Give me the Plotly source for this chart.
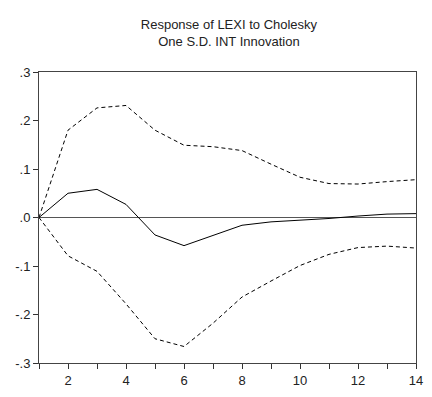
import plotly.graph_objects as go

periods = list(range(1, 15))
response = [0.0, 0.050, 0.058, 0.027, -0.036, -0.058, -0.037, -0.016, -0.009, -0.006, -0.002, 0.003, 0.007, 0.008]
upper = [0.0, 0.180, 0.226, 0.231, 0.180, 0.149, 0.146, 0.138, 0.110, 0.083, 0.070, 0.069, 0.074, 0.078]
lower = [0.0, -0.079, -0.111, -0.178, -0.250, -0.266, -0.218, -0.164, -0.131, -0.099, -0.076, -0.062, -0.059, -0.063]

y_ticks = [0.3, 0.2, 0.1, 0.0, -0.1, -0.2, -0.3]
y_labels = [".3", ".2", ".1", ".0", "-.1", "-.2", "-.3"]
x_labels = [str(p) if p % 2 == 0 else "" for p in periods]

fig = go.Figure()
fig.add_trace(go.Scatter(x=periods, y=upper, mode="lines",
                         line=dict(color="black", width=1, dash="4px,3px")))
fig.add_trace(go.Scatter(x=periods, y=lower, mode="lines",
                         line=dict(color="black", width=1, dash="4px,3px")))
fig.add_trace(go.Scatter(x=periods, y=response, mode="lines",
                         line=dict(color="black", width=1)))

fig.update_layout(
    width=432, height=397,
    margin=dict(l=39, r=9, t=72, b=26),
    paper_bgcolor="white", plot_bgcolor="white",
    showlegend=False,
    font=dict(family="Liberation Sans, Arial, sans-serif", size=12, color="#222"),
    title=dict(text="Response of LEXI to Cholesky<br>One S.D. INT Innovation",
               x=0.53, xanchor="center", y=0.927, yanchor="top",
               font=dict(size=13, color="#222")),
)
fig.update_xaxes(range=[1, 14], tickvals=periods, ticktext=x_labels,
                 ticks="outside", ticklen=5, tickcolor="#333", showgrid=False,
                 zeroline=False, showline=True, linecolor="#444", linewidth=1,
                 mirror=True, tickfont=dict(size=13))
fig.update_yaxes(range=[-0.3, 0.3], tickvals=y_ticks, ticktext=y_labels,
                 ticks="outside", ticklen=5, tickcolor="#333", showgrid=False,
                 zeroline=True, zerolinecolor="#555", zerolinewidth=1,
                 showline=True, linecolor="#444", linewidth=1, mirror=True,
                 tickfont=dict(size=13))

fig.write_html("out.html")
